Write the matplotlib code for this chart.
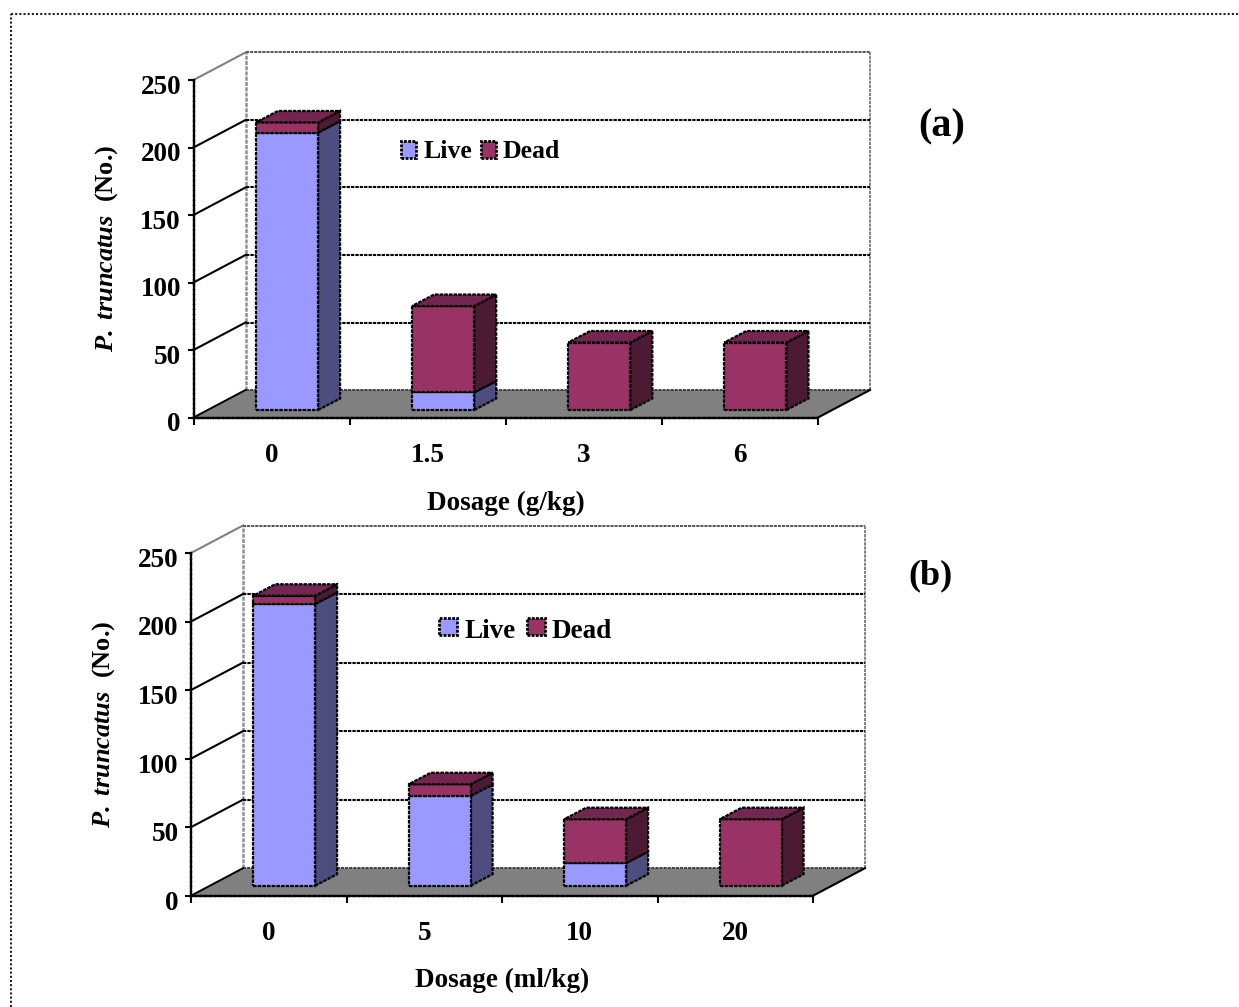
import matplotlib
matplotlib.use("Agg")
import matplotlib.pyplot as plt
from matplotlib.legend_handler import HandlerPatch
from matplotlib.lines import Line2D
from matplotlib.patches import Patch, Polygon
from matplotlib.transforms import ScaledTranslation

plt.rcParams['font.family'] = ['Liberation Serif', 'DejaVu Serif']
plt.rcParams['font.weight'] = 'bold'
plt.rcParams['mathtext.fontset'] = 'custom'
plt.rcParams['mathtext.bfit'] = 'Liberation Serif:italic:bold'
plt.rcParams['mathtext.rm'] = 'Liberation Serif:bold'

W, H = 1239, 1007

# values
yticks = [0, 50, 100, 150, 200, 250]
labels_a = ['0', '1.5', '3', '6']
live_a = [205.5, 13, 0, 0]
dead_a = [7.5, 64, 50, 50]
labels_b = ['0', '5', '10', '20']
live_b = [205.5, 65.5, 16.5, 0]
dead_b = [6, 8.5, 32, 48.5]

# colours
LIVE, LIVE_SIDE, LIVE_TOP = '#9999ff', '#4d4d80', '#7373bf'
DEAD, DEAD_SIDE, DEAD_TOP = '#993366', '#4d1a33', '#732650'
FLOOR = '#808080'

DASH = (0, (1.6, 0.5))
FS = 19.5


def box(ax, x0, x1, y0, y1, ddx, ddy, cols, top):
    front, side, cap = cols
    ax.add_patch(Polygon([(x1, y0), (x1 + ddx, y0 + ddy), (x1 + ddx, y1 + ddy), (x1, y1)],
                         fc=side, ec='k', lw=1.6, ls=DASH, zorder=5, clip_on=False))
    ax.add_patch(Polygon([(x0, y0), (x1, y0), (x1, y1), (x0, y1)],
                         fc=front, ec='k', lw=1.6, ls=DASH, zorder=6, clip_on=False))
    if top:
        ax.add_patch(Polygon([(x0, y1), (x1, y1), (x1 + ddx, y1 + ddy), (x0 + ddx, y1 + ddy)],
                             fc=cap, ec='k', lw=1.6, ls=DASH, zorder=6, clip_on=False))


def panel(box_px, labels, live, dead, xlabel, tag, tag_xy, tag_size, legend_xy, legend_fs, legend_gap,
          handle, handle_up, base_px, xlabel_pad):
    left, right, top, bottom = box_px
    ax = fig.add_axes([left / W, 1 - bottom / H, (right - left) / W, (bottom - top) / H])
    n = len(labels)
    ymax = yticks[-1]
    ax.set_xlim(0, n)
    ax.set_ylim(0, ymax)
    ax.patch.set_visible(False)

    # depth of the chart and of the bars, in data units
    px_x = (right - left) / n
    px_y = (bottom - top) / ymax
    dx, dy = 52 / px_x, 27.5 / px_y
    bdx, bdy = 22 / px_x, 11.5 / px_y
    base = base_px / px_y

    # walls
    ax.plot([0, dx], [ymax, ymax + dy], color='#808080', lw=1.5, clip_on=False, zorder=1)
    ax.plot([dx, dx], [dy, ymax + dy], color='#909090', lw=1.8, ls=DASH, clip_on=False, zorder=1)
    ax.plot([dx, n + dx], [ymax + dy, ymax + dy], color='#555555', lw=1.4, ls=DASH, clip_on=False, zorder=1)
    ax.plot([n + dx, n + dx], [dy, ymax + dy], color='#808080', lw=1.4, ls=DASH, clip_on=False, zorder=1)
    for v in yticks[1:-1]:
        ax.plot([0, dx], [v, v + dy], color='k', lw=1.5, clip_on=False, zorder=1)
        ax.plot([dx, n + dx], [v + dy, v + dy], color='k', lw=1.5, ls=DASH, clip_on=False, zorder=1)

    # floor
    ax.add_patch(Polygon([(0, 0), (n, 0), (n + dx, dy), (dx, dy)], fc=FLOOR, ec='none', zorder=2, clip_on=False))
    ax.plot([dx, n + dx], [dy, dy], color='#404040', lw=1.4, ls=DASH, clip_on=False, zorder=2)
    ax.plot([0, dx], [0, dy], color='k', lw=1.4, clip_on=False, zorder=3)
    ax.plot([n, n + dx], [0, dy], color='k', lw=1.5, clip_on=False, zorder=3)

    # bars
    for i in range(n):
        x0 = i + 0.40
        x1 = x0 + 0.398
        if live[i] > 0:
            box(ax, x0, x1, base, base + live[i], bdx, bdy, (LIVE, LIVE_SIDE, LIVE_TOP), dead[i] == 0)
        if dead[i] > 0:
            box(ax, x0, x1, base + live[i], base + live[i] + dead[i], bdx, bdy, (DEAD, DEAD_SIDE, DEAD_TOP), True)

    # axes
    for s in ['top', 'right']:
        ax.spines[s].set_visible(False)
    for s in ['left', 'bottom']:
        ax.spines[s].set_linestyle(DASH)
        ax.spines[s].set_linewidth(1.7)
        ax.spines[s].set_zorder(7)
    ax.set_yticks(yticks)
    ax.tick_params(axis='y', labelsize=FS, length=4, width=1.5, pad=5)
    down = ScaledTranslation(0, -3.2 / 72, fig.dpi_scale_trans)
    for lab in ax.get_yticklabels():
        lab.set_transform(lab.get_transform() + down)
    ax.set_xticks(range(n + 1))
    ax.set_xticklabels([])
    ax.tick_params(axis='x', which='major', length=5, width=1.5)
    ax.set_xticks([i + 0.5 for i in range(n)], labels, minor=True)
    ax.tick_params(axis='x', which='minor', length=0, labelsize=FS, pad=18)
    ax.set_xlabel(xlabel, fontsize=FS, fontweight='bold', labelpad=xlabel_pad)
    ax.set_ylabel(r'$\mathbfit{P.\,truncatus}$  (No.)', fontsize=19, fontweight='bold', labelpad=15)

    # ypad lifts the swatch but also takes the same amount off its height
    ax.legend(handles=[Patch(fc=LIVE, ec='k', lw=2, ls=(0, (1, 0.5)), label='Live'),
                       Patch(fc=DEAD, ec='k', lw=2, ls=(0, (1, 0.5)), label='Dead')],
              loc='center left', bbox_to_anchor=(legend_xy[0] / W, 1 - legend_xy[1] / H),
              bbox_transform=fig.transFigure, ncol=2, frameon=False, fontsize=legend_fs,
              handlelength=handle, handleheight=handle + handle_up, handletextpad=0.26,
              columnspacing=legend_gap, borderpad=0, borderaxespad=0,
              handler_map={Patch: HandlerPatch(ypad=handle_up)})

    fig.text(tag_xy[0] / W, 1 - tag_xy[1] / H, tag, fontsize=tag_size, fontweight='bold',
             ha='center', va='center')


fig = plt.figure(figsize=(W / 100, H / 100), dpi=100)

# outer dotted frame of the pasted figure
frame = dict(color='#222222', lw=1.5, ls=(0, (1, 1)))
fig.add_artist(Line2D([11 / W, 1], [1 - 13.5 / H, 1 - 13.5 / H], **frame))
fig.add_artist(Line2D([11 / W, 11 / W], [0, 1 - 13.5 / H], **frame))

panel((193.5, 818, 80, 417.5), labels_a, live_a, dead_a, 'Dosage (g/kg)', '(a)', (942, 127), 29,
      (401, 152), 18.5, 0.35, 0.6, 0, 7.5, 16.5)
panel((191, 813, 553, 895.7), labels_b, live_b, dead_b, 'Dosage (ml/kg)', '(b)', (931, 576), 26,
      (439, 631), 19.5, 0.4, 0.68, 0.16, 10, 16)

fig.savefig('out.png', dpi=100)
